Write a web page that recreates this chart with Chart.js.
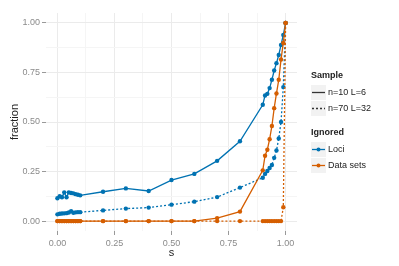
<!DOCTYPE html>
<html>
<head>
<meta charset="utf-8">
<script src="https://cdn.jsdelivr.net/npm/chart.js@4/dist/chart.umd.min.js"></script>
<style>
body { margin: 0; background: #fff; font-family: "Liberation Sans", Arial, sans-serif; }
#wrap { position: relative; width: 399px; height: 266px; }
.lg { position: absolute; font-size: 9px; color: #222; white-space: nowrap; line-height: 11px; }
.lg b { font-weight: bold; }
.key { position: absolute; width: 15px; height: 15px; background: #f2f2f2; }
</style>
</head>
<body>
<div id="wrap">
<canvas id="myChart" width="399" height="266"></canvas>
<div class="lg" style="left:311px;top:70px"><b>Sample</b></div>
<div class="key" style="left:311px;top:85px"><svg width="15" height="15"><line x1="1" y1="7.5" x2="14" y2="7.5" stroke="#333" stroke-width="1.3"/></svg></div>
<div class="lg" style="left:328px;top:87px">n=10 L=6</div>
<div class="key" style="left:311px;top:101px"><svg width="15" height="15"><line x1="1" y1="7.5" x2="14" y2="7.5" stroke="#333" stroke-width="1.3" stroke-dasharray="2,2"/></svg></div>
<div class="lg" style="left:328px;top:103px">n=70 L=32</div>
<div class="lg" style="left:311px;top:127px"><b>Ignored</b></div>
<div class="key" style="left:311px;top:142px"><svg width="15" height="15"><line x1="1" y1="7.5" x2="14" y2="7.5" stroke="#0072B2" stroke-width="1.3"/><circle cx="7.5" cy="7.5" r="2" fill="#0072B2"/></svg></div>
<div class="lg" style="left:328px;top:144px">Loci</div>
<div class="key" style="left:311px;top:158px"><svg width="15" height="15"><line x1="1" y1="7.5" x2="14" y2="7.5" stroke="#D55E00" stroke-width="1.3"/><circle cx="7.5" cy="7.5" r="2" fill="#D55E00"/></svg></div>
<div class="lg" style="left:328px;top:160px">Data sets</div>
</div>
<script>
// s values (same grid for all four curves)
var sVals = [0, 0.01, 0.02, 0.03, 0.04, 0.05, 0.06, 0.07, 0.08, 0.09, 0.1,
  0.2, 0.3, 0.4, 0.5, 0.6, 0.7, 0.8, 0.9,
  0.91, 0.92, 0.93, 0.94, 0.95, 0.96, 0.97, 0.98, 0.99, 1];

// Loci, n=10 L=6
var lociSmall = [0.115, 0.125, 0.12, 0.145, 0.12, 0.145, 0.142, 0.14, 0.136, 0.133, 0.13,
  0.148, 0.165, 0.152, 0.207, 0.238, 0.304, 0.403, 0.587,
  0.634, 0.642, 0.671, 0.713, 0.76, 0.797, 0.838, 0.889, 0.939, 1];
// Loci, n=70 L=32
var lociLarge = [0.034, 0.037, 0.038, 0.039, 0.04, 0.043, 0.05, 0.042, 0.044, 0.045, 0.045,
  0.054, 0.063, 0.068, 0.083, 0.098, 0.121, 0.169, 0.219,
  0.238, 0.253, 0.268, 0.283, 0.319, 0.356, 0.417, 0.5, 0.676, 1];
// Data sets, n=10 L=6
var dataSmall = [0, 0, 0, 0, 0, 0, 0, 0, 0, 0, 0,
  0, 0, 0, 0, 0, 0.015, 0.048, 0.256,
  0.33, 0.36, 0.413, 0.48, 0.57, 0.644, 0.713, 0.815, 0.899, 1];
// Data sets, n=70 L=32
var dataLarge = [0, 0, 0, 0, 0, 0, 0, 0, 0, 0, 0,
  0, 0, 0, 0, 0, 0, 0, 0,
  0, 0, 0, 0, 0, 0, 0, 0, 0.07, 1];

var majorTicks = [0, 0.25, 0.5, 0.75, 1];
var gridVals = [0, 0.125, 0.25, 0.375, 0.5, 0.625, 0.75, 0.875, 1];

var blue = '#0072B2';
var orange = '#D55E00';

function pts(ys) {
  var out = [];
  for (var i in sVals) {
    out.push({x: sVals[i], y: ys[i]});
  }
  return out;
}

function mkSet(label, ys, col, dashed, ord) {
  return {
    label: label,
    data: pts(ys),
    borderColor: col,
    backgroundColor: col,
    borderWidth: 1.3,
    borderDash: dashed ? [2, 2] : [],
    pointRadius: 2.2,
    pointBorderWidth: 0,
    pointHoverRadius: 2.2,
    tension: 0,
    order: ord
  };
}

function isMajor(v) {
  return majorTicks.indexOf(Math.round(v * 1000) / 1000) >= 0;
}

function axisOpts(title, isX) {
  return {
    type: 'linear',
    min: -0.05,
    max: 1.05,
    afterBuildTicks: function(scale) {
      scale.ticks = gridVals.map(function(v) { return {value: v}; });
    },
    afterFit: function(scale) {
      if (isX) scale.height = 35; else scale.width = 46;
    },
    border: { display: false },
    grid: {
      color: function(ctx) { return ctx.tick && isMajor(ctx.tick.value) ? '#ebebeb' : '#f5f5f5'; },
      tickColor: function(ctx) { return ctx.tick && isMajor(ctx.tick.value) ? '#999' : 'rgba(0,0,0,0)'; },
      tickLength: 4,
      lineWidth: 1
    },
    ticks: {
      autoSkip: false,
      maxRotation: 0,
      padding: isX ? 3 : 2,
      color: '#8a8a8a',
      font: { family: 'Liberation Sans', size: 9 },
      callback: function(v) { return isMajor(v) ? v.toFixed(2) : ''; }
    },
    title: {
      display: true,
      text: title,
      color: '#222',
      font: { family: 'Liberation Sans', size: 11 },
      padding: isX ? {top: 0, bottom: 6} : {top: 8, bottom: 0}
    }
  };
}

const config = {
  type: 'line',
  data: {
    datasets: [
      mkSet('Data sets n=10 L=6', dataSmall, orange, false, 0),
      mkSet('Data sets n=70 L=32', dataLarge, orange, true, 1),
      mkSet('Loci n=10 L=6', lociSmall, blue, false, 2),
      mkSet('Loci n=70 L=32', lociLarge, blue, true, 3)
    ]
  },
  options: {
    responsive: false,
    animation: false,
    devicePixelRatio: 1,
    layout: { padding: { top: 13, right: 102, left: 0, bottom: 0 } },
    plugins: { legend: { display: false }, tooltip: { enabled: false } },
    scales: {
      x: axisOpts('s', true),
      y: axisOpts('fraction', false)
    }
  }
};

const myChart = new Chart(document.getElementById('myChart'), config);
</script>
</body>
</html>
